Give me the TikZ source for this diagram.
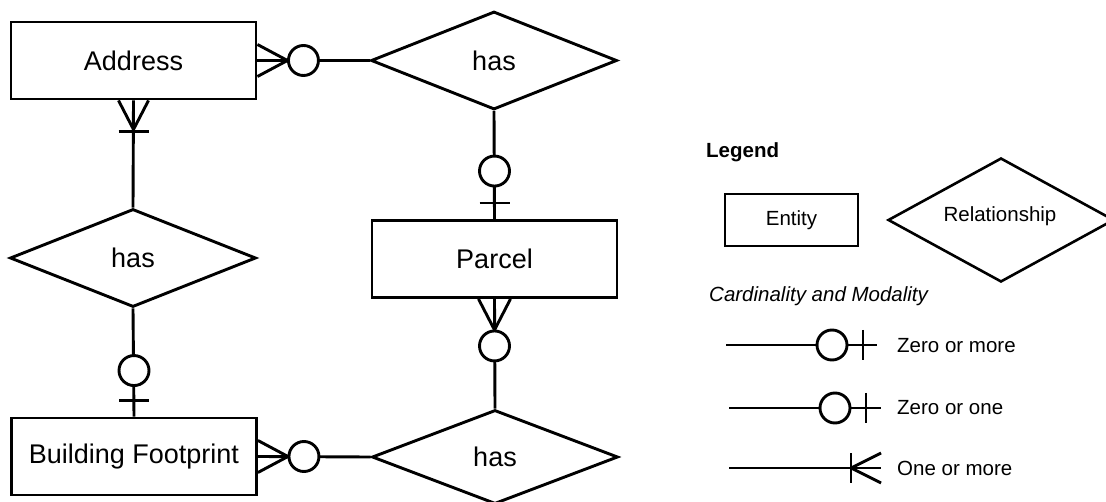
\documentclass[tikz,border=0pt]{standalone}
\usepackage{fontspec}
\setmainfont{Liberation Sans}
\usetikzlibrary{shapes.geometric,calc}

\newcommand{\mainfs}{\fontsize{27}{31}\selectfont}
\newcommand{\keyfs}{\fontsize{20.5}{24}\selectfont}

\tikzset{
  lw/.style={line width=2.9pt},
  entity/.style={draw, rectangle, lw, inner sep=0pt, minimum width=245pt,
                 minimum height=77pt, font=\mainfs},
  relation/.style={draw, diamond, lw, inner sep=0pt, aspect=2.5,
                   minimum width=246pt, minimum height=98pt, font=\mainfs},
  link/.style={lw, line cap=butt},
  foot/.style={lw, line join=round},
  ring/.style={lw, fill=white},
  thinlink/.style={line width=2pt},
  keytext/.style={anchor=west, inner sep=0pt, font=\keyfs},
}

\begin{document}
\begin{tikzpicture}[x=1pt, y=-1pt]
  \useasboundingbox (0,0) rectangle (1106,502);

  % ---------- entities and relationships ----------
  \node[entity] (addr)   at (133.5,60.5) {Address};
  \node[entity] (parcel) at (494.5,259)  {Parcel};
  \node[entity] (bf)     at (134,456.5)  {Building Footprint};

  \node[relation] (relA) at (494,60.5) {has};
  \node[relation] (relB) at (133,258)  {has};
  \node[relation, minimum height=94pt] (relC) at (495,457) {has};

  % ---------- Address -- has -- Parcel ----------
  \draw[link] (addr.east) -- (relA.west);
  \draw[foot] ($(addr.east)+(0,-16)$) -- ($(addr.east)+(30,0)$) -- ($(addr.east)+(0,16)$);
  \draw[ring] ($(addr.east)+(46,0)$) circle[radius=15pt];

  \draw[link] (relA.south) -- (parcel.north);
  \draw[ring] ($(parcel.north)+(0,-48)$) circle[radius=15pt];
  \draw[link] ($(parcel.north)+(-15,-16)$) -- ($(parcel.north)+(15,-16)$);

  % ---------- Address -- has -- Building Footprint ----------
  \draw[link] (addr.south) -- (relB.north);
  \draw[foot] ($(addr.south)+(-15,0)$) -- ($(addr.south)+(0,29)$) -- ($(addr.south)+(15,0)$);
  \draw[link] ($(addr.south)+(-15,31)$) -- ($(addr.south)+(15,31)$);

  \draw[link] (relB.south) -- (bf.north);
  \draw[ring] ($(bf.north)+(0,-46)$) circle[radius=15pt];
  \draw[link] ($(bf.north)+(-15,-16)$) -- ($(bf.north)+(15,-16)$);

  % ---------- Parcel -- has -- Building Footprint ----------
  \draw[link] (parcel.south) -- (relC.north);
  \draw[foot] ($(parcel.south)+(-16,0)$) -- ($(parcel.south)+(0,31)$) -- ($(parcel.south)+(16,0)$);
  \draw[ring] ($(parcel.south)+(0,47)$) circle[radius=15pt];

  \draw[link] (bf.east) -- (relC.west);
  \draw[foot] ($(bf.east)+(0,-16)$) -- ($(bf.east)+(30,0)$) -- ($(bf.east)+(0,16)$);
  \draw[ring] ($(bf.east)+(46,0)$) circle[radius=15pt];

  % ---------- legend ----------
  \node[anchor=west, inner sep=0pt, font=\keyfs\bfseries] (legtitle) at (706,152) {Legend};
  \node[draw, rectangle, line width=2.6pt, minimum width=133pt, minimum height=52pt,
        inner sep=0pt, font=\keyfs] (legent) at (791.5,220) {Entity};
  \node[draw, diamond, line width=2.6pt, inner sep=0pt, aspect=2,
        minimum width=226pt, minimum height=124pt, font=\keyfs] (legrel) at (1001,220) {};
  \node[font=\keyfs, inner sep=0pt] (legreltext) at (1000,216) {Relationship};
  \node[anchor=west, inner sep=0pt, font=\keyfs\itshape] (legcm) at (709,296) {Cardinality and Modality};

  % zero or more
  \coordinate (za) at (726,345);
  \coordinate (zb) at (877,345);
  \draw[thinlink] (za) -- (zb);
  \draw[ring] ($(za)+(106,0)$) circle[radius=15pt];
  \draw[link] ($(za)+(137,-15)$) -- ($(za)+(137,15)$);
  \node[keytext] (zmtext) at (897,346) {Zero or more};

  % zero or one
  \coordinate (oa) at (729,408);
  \coordinate (ob) at (881,408);
  \draw[thinlink] (oa) -- (ob);
  \draw[ring] ($(oa)+(106,0)$) circle[radius=15pt];
  \draw[link] ($(oa)+(137,-15)$) -- ($(oa)+(137,15)$);
  \node[keytext] (zotext) at (897,408) {Zero or one};

  % one or more
  \coordinate (ma) at (729,468);
  \coordinate (mb) at (881,468);
  \draw[link] (ma) -- (mb);
  \draw[link] ($(ma)+(122,-15)$) -- ($(ma)+(122,15)$);
  \draw[foot] ($(mb)+(0,-15)$) -- ($(ma)+(122,0)$) -- ($(mb)+(0,15)$);
  \node[keytext] (omtext) at (897,468) {One or more};
\end{tikzpicture}
\end{document}
